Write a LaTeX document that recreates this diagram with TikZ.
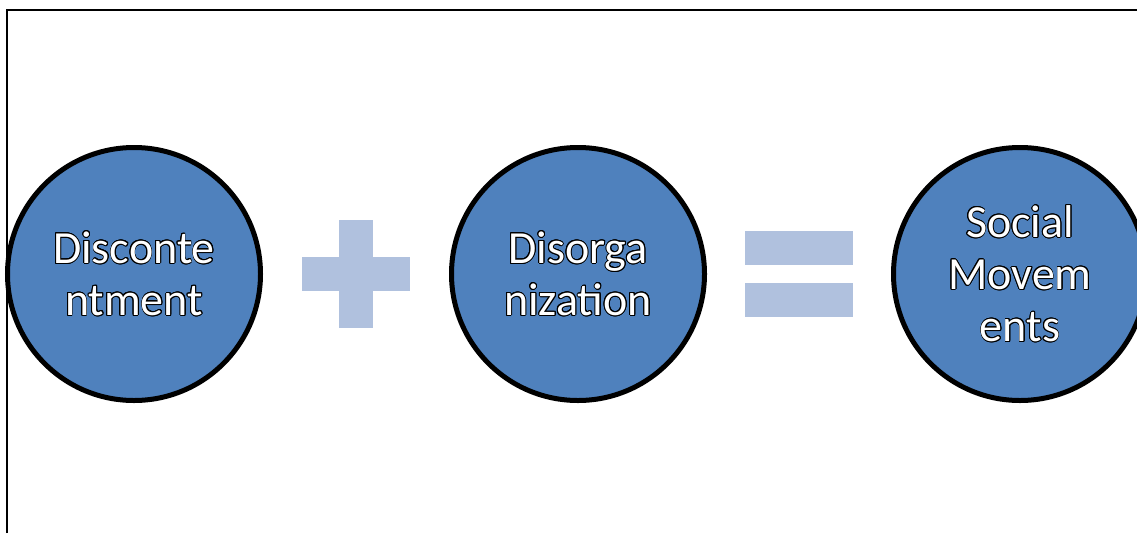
\documentclass[tikz,border=0pt]{standalone}
\usepackage{fontspec}
\setmainfont{Carlito}
\usepackage{contour}
\contourlength{0.9pt}
\definecolor{circblue}{HTML}{4F81BD}
\definecolor{signblue}{HTML}{B0C1DE}
% white letters with a thin black outline
\newcommand\ol[1]{\contour{black}{#1}}
\begin{document}
\begin{tikzpicture}[x=1pt,y=-1pt,
  bubble/.style={circle, draw=black, line width=5pt, fill=circblue,
    minimum size=253pt, inner sep=0pt, align=center, text=white,
    font=\fontsize{46}{52}\selectfont},
  signbar/.style={fill=signblue, draw=none}]
\useasboundingbox (0,0) rectangle (1137,533);
% frame edges
\draw[line width=1.8pt] (7,533) -- (7,10) -- (1137,10);
% plus sign
\fill[signbar] (302,257) rectangle (410,291);
\fill[signbar] (339,220) rectangle (373,328);
% equals sign
\fill[signbar] (745,231) rectangle (853,265);
\fill[signbar] (745,283) rectangle (853,317);
% circles
\node[bubble] (disc) at (134,274) {\ol{Disconte}\\\ol{ntment}};
\node[bubble] (disorg) at (578,274) {\ol{Disorga}\\\ol{nization}};
\node[bubble] (social) at (1020,274) {\ol{Social}\\\ol{Movem}\\\ol{ents}};
\end{tikzpicture}
\end{document}
